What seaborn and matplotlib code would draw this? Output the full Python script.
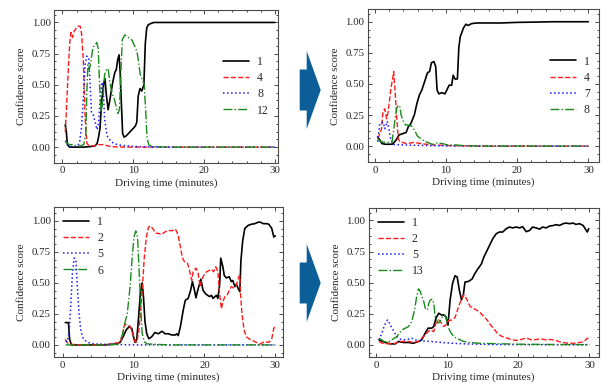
import matplotlib
matplotlib.use("Agg")
import matplotlib.pyplot as plt
from matplotlib.patches import Polygon
from matplotlib.ticker import AutoMinorLocator, FormatStrFormatter
import seaborn as sns

# ---- data (minutes, confidence) ----
# top-left panel
tl_t1 = [0.4, 0.55, 0.7, 1.0, 2.0, 3.0, 4.0, 4.6, 4.9, 5.1, 5.3, 5.55, 5.8, 6.0, 6.2, 6.45, 6.7, 6.9, 7.1,
         7.4, 7.6, 7.8, 8.0, 8.15, 8.3, 8.5, 8.7, 9.0, 9.5, 10.0, 10.3, 10.5, 10.7, 10.95, 11.2, 11.5, 11.7,
         11.9, 12.1, 12.4, 12.9, 15, 20, 25, 30]
tl_v1 = [0.18, 0.12, 0.02, 0.0, 0.0, 0.0, 0.005, 0.01, 0.03, 0.08, 0.15, 0.37, 0.50, 0.55, 0.42, 0.30, 0.38,
         0.45, 0.52, 0.60, 0.62, 0.70, 0.74, 0.60, 0.38, 0.11, 0.08, 0.09, 0.12, 0.15, 0.17, 0.20, 0.41, 0.47,
         0.45, 0.50, 0.83, 0.955, 0.98, 0.99, 1.0, 1.0, 1.0, 1.0, 1.0]
tl_t4 = [0.4, 0.6, 0.85, 1.05, 1.2, 1.42, 1.65, 1.9, 2.1, 2.3, 2.5, 2.7, 2.95, 3.2, 3.45, 3.8, 4.5, 5.2, 5.8,
         6.4, 7.0, 9, 12, 20, 30]
tl_v4 = [0.12, 0.35, 0.65, 0.85, 0.92, 0.88, 0.93, 0.95, 0.97, 0.97, 0.97, 0.91, 0.70, 0.24, 0.03, 0.01, 0.01,
         0.02, 0.02, 0.01, 0.003, 0.0, 0.0, 0.0, 0.0]
tl_t8 = [0.4, 0.7, 1.0, 2.0, 2.4, 2.7, 2.95, 3.2, 3.45, 3.7, 3.9, 4.1, 4.35, 4.7, 4.9, 5.1, 5.35, 5.55, 5.75,
         5.95, 6.3, 6.8, 7.3, 8.2, 10, 12, 15, 30]
tl_v8 = [0.05, 0.02, 0.005, 0.005, 0.03, 0.16, 0.39, 0.66, 0.73, 0.72, 0.51, 0.28, 0.26, 0.18, 0.14, 0.20,
         0.39, 0.52, 0.49, 0.23, 0.09, 0.05, 0.027, 0.016, 0.005, 0.003, 0.0, 0.0]
tl_t12 = [0.4, 0.7, 1.0, 1.5, 2.0, 2.5, 3.0, 3.3, 3.45, 3.6, 3.8, 4.0, 4.3, 4.6, 4.85, 5.05, 5.25, 5.45, 5.7,
          5.95, 6.2, 6.45, 6.7, 6.9, 7.1, 7.35, 7.6, 7.85, 8.05, 8.25, 8.45, 8.8, 9.3, 9.8, 10.3, 10.55, 10.75,
          11.0, 11.3, 11.55, 11.75, 11.95, 12.2, 12.6, 15, 20, 30]
tl_v12 = [0.05, 0.03, 0.02, 0.02, 0.01, 0.01, 0.02, 0.1, 0.45, 0.66, 0.62, 0.68, 0.80, 0.82, 0.84, 0.79, 0.50,
          0.28, 0.37, 0.58, 0.62, 0.63, 0.52, 0.46, 0.42, 0.38, 0.32, 0.27, 0.30, 0.60, 0.86, 0.90, 0.88, 0.86,
          0.80, 0.76, 0.68, 0.58, 0.54, 0.50, 0.30, 0.07, 0.02, 0.005, 0.0, 0.0, 0.0]

# top-right panel
tr_t1 = [0.4, 0.7, 1.0, 1.5, 2.0, 2.5, 3.0, 3.4, 3.9, 4.4, 4.7, 5.05, 5.55, 5.9, 6.25, 6.6, 7.0, 7.4, 7.7,
         7.95, 8.3, 8.55, 8.75, 9.0, 9.4, 9.85, 10.1, 10.45, 10.8, 11.0, 11.25, 11.6, 11.8, 12.0, 12.2, 12.45,
         12.8, 13.1, 13.6, 14.3, 15.4, 17.7, 20.1, 22.4, 25, 30]
tr_v1 = [0.075, 0.05, 0.02, 0.015, 0.015, 0.016, 0.05, 0.09, 0.10, 0.11, 0.155, 0.18, 0.25, 0.34, 0.41, 0.45,
         0.52, 0.59, 0.60, 0.67, 0.68, 0.64, 0.45, 0.42, 0.43, 0.42, 0.45, 0.49, 0.49, 0.57, 0.54, 0.54, 0.79,
         0.88, 0.91, 0.95, 0.98, 0.97, 0.985, 0.99, 0.99, 0.99, 0.995, 0.997, 1.0, 1.0]
tr_t4 = [0.4, 0.7, 0.95, 1.15, 1.4, 1.65, 1.85, 2.05, 2.25, 2.5, 2.65, 2.85, 3.05, 3.3, 3.5, 4.5, 5.5, 6.5,
         8, 10, 14, 30]
tr_v4 = [0.06, 0.10, 0.14, 0.28, 0.30, 0.22, 0.27, 0.36, 0.46, 0.54, 0.60, 0.44, 0.25, 0.06, 0.035, 0.02,
         0.03, 0.02, 0.01, 0.005, 0.0, 0.0]
tr_t7 = [0.4, 0.7, 0.95, 1.2, 1.4, 1.6, 1.75, 2.0, 2.25, 2.6, 4, 6, 10, 30]
tr_v7 = [0.035, 0.18, 0.19, 0.19, 0.14, 0.17, 0.20, 0.13, 0.05, 0.013, 0.01, 0.006, 0.002, 0.0]
tr_t8 = [0.4, 0.7, 1.0, 1.5, 2.0, 2.4, 2.6, 2.85, 3.1, 3.3, 3.5, 3.7, 4.0, 4.3, 4.6, 5.2, 5.55, 6.0, 6.7,
         7.4, 8.1, 8.8, 9.5, 10.2, 11.2, 12.6, 15, 30]
tr_v8 = [0.06, 0.04, 0.035, 0.03, 0.03, 0.03, 0.11, 0.22, 0.31, 0.33, 0.32, 0.25, 0.20, 0.17, 0.17, 0.16,
         0.13, 0.08, 0.05, 0.03, 0.014, 0.027, 0.02, 0.01, 0.01, 0.004, 0.0, 0.0]

# bottom-left panel
bl_t1 = [0.35, 0.6, 0.8, 0.95, 1.2, 3, 6, 7.1, 8.1, 8.55, 8.95, 9.4, 9.75, 10.0, 10.2, 10.45, 10.7, 10.95,
         11.2, 11.4, 11.6, 11.85, 12.15, 12.55, 13.0, 13.5, 14.0, 14.45, 14.9, 15.4, 15.9, 16.1, 16.3, 16.6,
         17.0, 17.3, 17.7, 18.05, 18.3, 18.6, 18.8, 19.1, 19.5, 19.8, 20.2, 20.7, 21.0, 21.2, 21.7, 21.9,
         22.15, 22.3, 22.6, 22.8, 23.1, 23.5, 23.8, 24.0, 24.3, 24.5, 24.8, 25.0, 25.15, 25.4, 25.7, 26.2,
         26.6, 27.1, 27.6, 27.9, 28.3, 28.8, 29.1, 29.5, 29.8, 30.0]
bl_v1 = [0.18, 0.18, 0.18, 0.05, 0.0, 0.0, 0.0, 0.005, 0.02, 0.07, 0.12, 0.15, 0.13, 0.06, 0.02, 0.05, 0.22,
         0.42, 0.50, 0.38, 0.19, 0.09, 0.05, 0.065, 0.10, 0.09, 0.11, 0.09, 0.09, 0.08, 0.08, 0.09, 0.075,
         0.145, 0.28, 0.36, 0.375, 0.44, 0.51, 0.44, 0.38, 0.45, 0.53, 0.44, 0.41, 0.39, 0.40, 0.375, 0.40,
         0.375, 0.49, 0.70, 0.63, 0.56, 0.54, 0.55, 0.51, 0.52, 0.47, 0.49, 0.45, 0.43, 0.68, 0.84, 0.94,
         0.965, 0.973, 0.978, 0.99, 0.99, 0.978, 0.978, 0.973, 0.94, 0.87, 0.88]
bl_t2 = [0.35, 0.6, 0.9, 3, 6, 8.1, 8.4, 8.75, 9.1, 9.5, 9.9, 10.15, 10.45, 10.75, 11.0, 11.3, 11.5, 11.8,
         12.1, 12.4, 12.8, 13.1, 13.5, 13.9, 14.4, 14.9, 15.4, 15.9, 16.3, 16.6, 16.9, 17.2, 17.6, 17.9, 18.2,
         18.4, 18.8, 19.1, 19.4, 19.6, 19.9, 20.3, 20.7, 21.0, 21.3, 21.6, 21.9, 22.15, 22.4, 22.6, 22.9,
         23.2, 23.5, 23.8, 24.1, 24.5, 24.85, 25.0, 25.1, 25.3, 25.6, 25.9, 26.4, 27.1, 27.6, 27.9, 28.5,
         29.1, 29.5, 29.8, 30.0]
bl_v2 = [0.045, 0.02, 0.005, 0.0, 0.0, 0.02, 0.07, 0.17, 0.16, 0.15, 0.09, 0.03, 0.02, 0.12, 0.28, 0.52, 0.70,
         0.87, 0.95, 0.96, 0.93, 0.90, 0.90, 0.89, 0.91, 0.925, 0.92, 0.935, 0.885, 0.79, 0.70, 0.67, 0.66,
         0.60, 0.52, 0.59, 0.62, 0.58, 0.47, 0.52, 0.56, 0.59, 0.60, 0.61, 0.59, 0.63, 0.59, 0.41, 0.29, 0.35,
         0.39, 0.40, 0.44, 0.47, 0.46, 0.48, 0.55, 0.56, 0.41, 0.25, 0.12, 0.067, 0.045, 0.027, 0.013, 0.008,
         0.027, 0.02, 0.05, 0.135, 0.15]
bl_t5 = [0.4, 0.65, 0.9, 1.15, 1.35, 1.6, 1.85, 2.05, 2.3, 2.55, 2.9, 3.5, 4.4, 6, 8, 10, 30]
bl_v5 = [0.03, 0.027, 0.11, 0.34, 0.57, 0.70, 0.69, 0.47, 0.25, 0.11, 0.05, 0.02, 0.008, 0.005, 0.003, 0.0, 0.0]
bl_t6 = [0.4, 2, 4, 6, 7.9, 8.4, 8.75, 9.1, 9.5, 9.8, 10.05, 10.3, 10.55, 10.75, 11.0, 11.2, 11.5, 11.9, 15,
         20, 25, 30]
bl_v6 = [0.0, 0.0, 0.0, 0.0, 0.005, 0.08, 0.175, 0.25, 0.47, 0.71, 0.87, 0.92, 0.87, 0.63, 0.31, 0.094, 0.027,
         0.008, 0.0, 0.0, 0.0, 0.0]

# bottom-right panel
br_t1 = [0.4, 0.8, 1.25, 2.0, 2.7, 3.15, 3.85, 4.55, 5.25, 5.95, 6.4, 6.9, 7.3, 7.8, 8.1, 8.4, 8.8, 9.2, 9.5,
         9.8, 10.1, 10.4, 10.75, 11.1, 11.4, 11.7, 12.0, 12.25, 12.5, 13.0, 13.5, 13.85, 14.3, 14.8, 15.15,
         15.5, 15.95, 16.4, 16.9, 17.35, 17.8, 18.3, 18.75, 19.2, 19.7, 20.2, 20.6, 21.1, 21.6, 22.0, 22.5,
         23.0, 23.4, 23.9, 24.4, 24.8, 25.3, 25.8, 26.3, 26.7, 27.2, 27.7, 28.1, 28.6, 29.1, 29.4, 29.7, 29.9]
br_v1 = [0.04, 0.03, 0.019, 0.008, 0.008, 0.027, 0.019, 0.019, 0.013, 0.027, 0.04, 0.094, 0.134, 0.134, 0.147,
         0.214, 0.254, 0.24, 0.24, 0.227, 0.16, 0.36, 0.496, 0.556, 0.545, 0.44, 0.362, 0.40, 0.505, 0.51, 0.53,
         0.57, 0.61, 0.65, 0.706, 0.747, 0.80, 0.853, 0.894, 0.907, 0.907, 0.934, 0.947, 0.94, 0.947, 0.94,
         0.95, 0.91, 0.92, 0.947, 0.94, 0.93, 0.947, 0.94, 0.955, 0.958, 0.966, 0.96, 0.974, 0.979, 0.974,
         0.979, 0.968, 0.974, 0.96, 0.934, 0.907, 0.934]
br_t2 = [0.4, 0.8, 1.25, 2.0, 2.7, 3.15, 4.55, 5.25, 5.95, 6.65, 7.1, 7.6, 8.1, 8.4, 8.8, 9.2, 9.5, 9.8, 10.2,
         10.65, 11.1, 11.6, 12.05, 12.35, 12.8, 13.2, 13.6, 14.1, 14.6, 15.1, 15.6, 16.1, 16.6, 17.1, 17.6,
         18.3, 19.0, 19.7, 20.4, 21.1, 21.8, 22.5, 23.2, 23.9, 24.6, 25.3, 26.0, 27.0, 27.9, 28.8, 29.3, 29.7,
         29.9]
br_v2 = [0.027, 0.015, 0.008, 0.01, 0.012, 0.027, 0.027, 0.02, 0.027, 0.067, 0.094, 0.12, 0.107, 0.174, 0.20,
         0.174, 0.147, 0.16, 0.196, 0.20, 0.22, 0.308, 0.375, 0.405, 0.36, 0.31, 0.295, 0.28, 0.26, 0.23, 0.20,
         0.16, 0.125, 0.09, 0.07, 0.056, 0.043, 0.035, 0.043, 0.056, 0.04, 0.043, 0.048, 0.04, 0.043, 0.035,
         0.021, 0.013, 0.013, 0.021, 0.029, 0.054, 0.043]
br_t5 = [0.4, 0.8, 1.2, 1.6, 2.0, 2.5, 2.9, 3.4, 3.85, 4.55, 5.0, 5.5, 6.4, 7.8, 9.2, 10.65, 12.5, 16.3, 20,
         25, 30]
br_v5 = [0.04, 0.094, 0.16, 0.20, 0.16, 0.107, 0.067, 0.046, 0.04, 0.046, 0.054, 0.04, 0.032, 0.027, 0.019,
         0.013, 0.008, 0.003, 0.002, 0.001, 0.0]
br_t13 = [0.4, 1.1, 1.6, 2.2, 2.9, 3.6, 4.1, 4.55, 5.0, 5.4, 5.7, 5.95, 6.2, 6.4, 6.65, 6.9, 7.2, 7.4, 7.6,
          7.9, 8.1, 8.3, 8.7, 9.0, 9.3, 9.7, 9.9, 10.2, 10.55, 11.0, 11.6, 12.3, 13.2, 14.4, 16.3, 18, 20, 25, 30]
br_v13 = [0.054, 0.027, 0.02, 0.04, 0.067, 0.12, 0.134, 0.147, 0.187, 0.28, 0.39, 0.45, 0.43, 0.39, 0.36,
          0.295, 0.28, 0.335, 0.36, 0.367, 0.335, 0.227, 0.174, 0.187, 0.227, 0.24, 0.20, 0.134, 0.094, 0.062,
          0.046, 0.027, 0.019, 0.013, 0.01, 0.008, 0.005, 0.003, 0.002]

# class labels shown in each legend
tl_labels = ["1", "4", "8", "12"]
tr_labels = ["1", "4", "7", "8"]
bl_labels = ["1", "2", "5", "6"]
br_labels = ["1", "2", "5", "13"]

COLORS = ["black", "#ff1a1a", "#1a1aff", "#1a8a1a"]
STYLES = ["-", "--", ":", "-."]
WIDTHS = [1.2, 1.0, 1.1, 1.0]
FRAME = "#4a4a4a"

sns.set_theme(style="ticks")
plt.rcParams["font.family"] = ["Liberation Serif", "DejaVu Serif"]


def draw_panel(ax, series, labels, xlim, ylim, loc):
    for (t, v), lab, c, ls, lw in zip(series, labels, COLORS, STYLES, WIDTHS):
        sns.lineplot(x=t, y=v, ax=ax, color=c, linestyle=ls, linewidth=lw, label=lab)
    ax.set_xlim(*xlim)
    ax.set_ylim(*ylim)
    ax.set_xticks([0, 10, 20, 30])
    ax.set_yticks([0, 0.25, 0.5, 0.75, 1.0])
    ax.yaxis.set_major_formatter(FormatStrFormatter("%.2f"))
    ax.xaxis.set_minor_locator(AutoMinorLocator(5))
    ax.yaxis.set_minor_locator(AutoMinorLocator(4))
    ax.tick_params(which="both", direction="in", top=True, right=True, color=FRAME,
                   labelsize=7.8, pad=2.5, width=0.7)
    ax.tick_params(which="major", length=3.2)
    ax.tick_params(which="minor", length=1.7)
    for s in ax.spines.values():
        s.set_color(FRAME)
        s.set_linewidth(0.8)
    ax.set_xlabel("Driving time (minutes)", fontsize=8, labelpad=2)
    ax.set_ylabel("Confidence score", fontsize=8, labelpad=4)
    ax.legend(loc=loc, frameon=False, fontsize=8.5, handlelength=2.2, handletextpad=0.7,
              labelspacing=0.35, borderaxespad=0.35)


W, H = 602, 388
fig = plt.figure(figsize=(W / 100, H / 100), dpi=100)


def box(x0, y0, x1, y1):
    return [x0 / W, 1 - y1 / H, (x1 - x0) / W, (y1 - y0) / H]


ax_tl = fig.add_axes(box(54.3, 10, 277.7, 162.7))
ax_tr = fig.add_axes(box(367.7, 9.3, 598.7, 162.3))
ax_bl = fig.add_axes(box(54.3, 207.3, 282.7, 357.3))
ax_br = fig.add_axes(box(368.7, 208, 598.7, 357.3))

draw_panel(ax_tl, [(tl_t1, tl_v1), (tl_t4, tl_v4), (tl_t8, tl_v8), (tl_t12, tl_v12)],
           tl_labels, (-1.15, 30.4), (-0.125, 1.1), "center right")
draw_panel(ax_tr, [(tr_t1, tr_v1), (tr_t4, tr_v4), (tr_t7, tr_v7), (tr_t8, tr_v8)],
           tr_labels, (-1.0, 31.45), (-0.13, 1.1), "center right")
draw_panel(ax_bl, [(bl_t1, bl_v1), (bl_t2, bl_v2), (bl_t5, bl_v5), (bl_t6, bl_v6)],
           bl_labels, (-1.2, 31.05), (-0.1, 1.11), "upper left")
draw_panel(ax_br, [(br_t1, br_v1), (br_t2, br_v2), (br_t5, br_v5), (br_t13, br_v13)],
           br_labels, (-1.05, 31.3), (-0.1, 1.1), "upper left")

# block arrows between the panels
for cy in (90, 283):
    pts = [(299.7, cy - 20.5), (306.7, cy - 20.5), (306.7, cy - 39), (320.7, cy),
           (306.7, cy + 39), (306.7, cy + 20.5), (299.7, cy + 20.5)]
    fig.patches.append(Polygon([(x / W, 1 - y / H) for x, y in pts], closed=True,
                               transform=fig.transFigure, facecolor="#0b5e98", edgecolor="none"))

fig.savefig("out.png", dpi=100)
